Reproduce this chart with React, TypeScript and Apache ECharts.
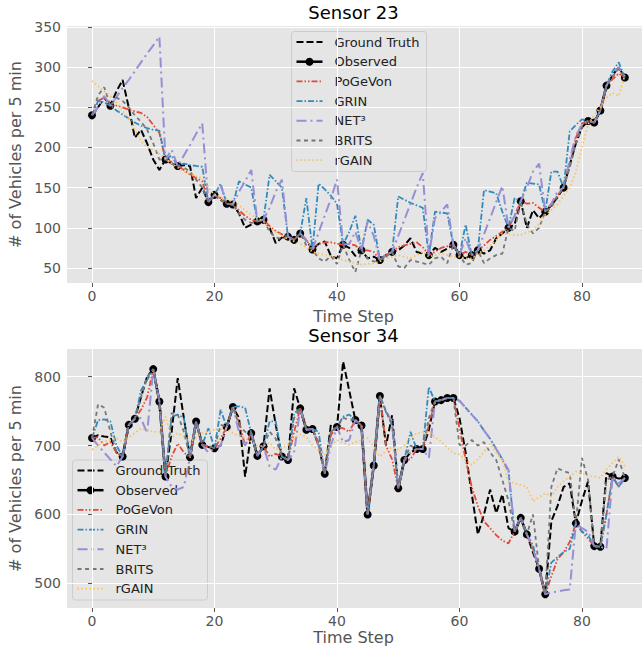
import React, { useEffect, useRef } from "react";
import * as echarts from "echarts";

// ---------- Sensor 23 ----------
const GT_23 = [
  240, 250, 262, 252, 270, 284, 250, 212, 222, 205,
  185, 172, 185, 180, 177, 178, 177, 137, 150, 132,
  141, 135, 130, 129, 118, 100, 104, 108, 110, 100,
  81, 88, 89, 85, 93, 84, 73, 80, 83, 65,
  62, 79, 75, 65, 72, 62, 64, 60, 66, 70,
  72, 78, 87, 70, 68, 66, 75, 70, 74, 79,
  66, 62, 66, 72, 68, 72, 87, 93, 100, 104,
  133, 100, 122, 112, 120, 128, 138, 150, 178, 205,
  225, 233, 231, 246, 277, 290, 300, 287,
];
const OBS_IDX_23 = [0, 3, 12, 14, 19, 20, 22, 23, 27, 28, 32, 33, 34, 36, 41, 44, 47, 49, 55, 59, 60, 62, 63, 68, 70, 74, 77, 81, 82, 83, 84, 87];
const POGEVON_23 = [
  240, 258, 262, 252, 252, 250, 247, 245, 243, 238,
  228, 218, 185, 182, 177, 172, 166, 162, 158, 132,
  141, 137, 130, 129, 122, 115, 110, 108, 110, 102,
  96, 92, 89, 85, 93, 85, 73, 80, 82, 82,
  80, 79, 80, 78, 72, 72, 70, 60, 66, 70,
  76, 78, 80, 82, 76, 66, 70, 75, 77, 79,
  66, 70, 66, 72, 78, 85, 90, 95, 100, 115,
  133, 130, 131, 125, 120, 130, 140, 150, 180, 212,
  230, 233, 231, 246, 277, 285, 292, 287,
];
const GRIN_23 = [
  240, 258, 256, 252, 246, 241, 236, 231, 227, 224,
  222, 221, 185, 190, 177, 180, 178, 177, 176, 132,
  141, 155, 130, 129, 158, 154, 150, 108, 110, 166,
  158, 150, 89, 85, 93, 137, 73, 155, 148, 140,
  130, 79, 95, 115, 72, 110, 104, 60, 66, 70,
  139, 135, 131, 128, 125, 66, 120, 119, 118, 79,
  66, 104, 66, 72, 147, 145, 143, 120, 100, 137,
  133, 156, 155, 154, 120, 170, 170, 150, 220, 228,
  235, 233, 231, 246, 277, 295, 306, 287,
];
const NET3_23 = [
  240, 250, 264, 252, 263, 274, 284, 295, 306, 317,
  327, 338, 185, 197, 177, 190, 203, 217, 230, 132,
  141, 153, 130, 129, 145, 158, 172, 108, 110, 125,
  145, 160, 89, 85, 93, 84, 73, 94, 115, 136,
  160, 79, 80, 95, 72, 108, 90, 60, 66, 70,
  90, 110, 130, 150, 168, 66, 112, 120, 129, 79,
  66, 87, 66, 72, 92, 112, 132, 152, 100, 115,
  133, 150, 170, 180, 120, 130, 145, 150, 185, 215,
  228, 233, 231, 246, 277, 290, 300, 287,
];
const BRITS_23 = [
  240, 265, 275, 252, 262, 258, 250, 240, 232, 222,
  205, 185, 185, 180, 177, 175, 170, 160, 150, 132,
  141, 135, 130, 129, 118, 110, 106, 108, 110, 95,
  88, 86, 89, 85, 93, 78, 73, 62, 58, 65,
  55, 79, 60, 45, 72, 62, 58, 60, 64, 70,
  52, 50, 60, 58, 56, 54, 62, 64, 56, 79,
  66, 54, 56, 72, 56, 62, 66, 68, 100, 96,
  133, 104, 93, 100, 120, 125, 140, 150, 175, 205,
  225, 233, 231, 246, 277, 288, 298, 287,
];
const RGAIN_23 = [
  283, 276, 270, 264, 256, 246, 235, 222, 208, 200,
  197, 192, 186, 180, 175, 170, 167, 164, 162, 150,
  141, 138, 135, 133, 128, 122, 116, 112, 108, 100,
  95, 90, 86, 83, 80, 76, 70, 68, 66, 64,
  62, 60, 58, 56, 54, 55, 56, 58, 62, 64,
  66, 64, 62, 66, 70, 64, 66, 68, 66, 64,
  64, 62, 62, 68, 72, 78, 85, 93, 92, 91,
  91, 94, 97, 105, 116, 122, 129, 140, 150, 170,
  200, 229, 240, 250, 262, 268, 264, 290,
];

// ---------- Sensor 34 ----------
const GT_34 = [
  711, 715, 713, 712, 690, 684, 730, 739, 770, 800,
  811, 764, 655, 720, 798, 740, 683, 735, 701, 698,
  696, 700, 727, 756, 740, 655, 718, 685, 699, 783,
  730, 684, 679, 783, 754, 723, 724, 700, 659, 730,
  727, 822, 780, 737, 729, 600, 671, 772, 700, 744,
  638, 679, 690, 695, 695, 723, 764, 766, 769, 769,
  740, 690, 630, 571, 600, 636, 602, 629, 580, 575,
  595, 571, 545, 521, 484, 590, 612, 640, 645, 587,
  620, 648, 554, 553, 660, 655, 652, 653,
];
const OBS_IDX_34 = [0, 5, 6, 7, 10, 11, 12, 16, 17, 18, 20, 22, 23, 26, 27, 28, 31, 32, 34, 35, 36, 38, 40, 43, 44, 45, 46, 47, 50, 51, 53, 54, 56, 57, 58, 59, 69, 70, 71, 73, 74, 79, 82, 83, 85, 87];
const POGEVON_34 = [
  711, 712, 700, 705, 690, 684, 730, 739, 752, 770,
  811, 764, 655, 684, 703, 690, 683, 735, 701, 698,
  696, 710, 727, 756, 735, 700, 718, 685, 699, 684,
  688, 684, 679, 720, 754, 723, 724, 700, 659, 715,
  727, 725, 720, 737, 729, 600, 671, 772, 700, 680,
  638, 679, 680, 695, 695, 730, 764, 766, 769, 769,
  725, 680, 640, 612, 590, 580, 570, 562, 558, 575,
  595, 571, 550, 521, 484, 510, 535, 545, 560, 587,
  575, 565, 554, 553, 600, 655, 640, 653,
];
const GRIN_34 = [
  711, 737, 738, 735, 700, 684, 730, 739, 780, 795,
  811, 764, 655, 742, 745, 740, 683, 735, 701, 725,
  696, 752, 727, 756, 757, 755, 718, 685, 699, 735,
  735, 684, 679, 747, 754, 723, 724, 720, 659, 720,
  727, 742, 745, 737, 729, 600, 671, 772, 749, 730,
  638, 679, 720, 695, 695, 785, 764, 766, 769, 769,
  765, 755, 745, 735, 722, 710, 695, 680, 662, 575,
  595, 571, 555, 521, 484, 530, 538, 545, 550, 587,
  575, 570, 554, 553, 600, 655, 640, 653,
];
const NET3_34 = [
  711, 700, 690, 680, 670, 684, 730, 739, 740, 718,
  811, 764, 655, 640, 636, 640, 683, 735, 701, 690,
  696, 700, 727, 756, 720, 700, 718, 685, 699, 670,
  665, 684, 679, 690, 754, 723, 724, 700, 659, 700,
  727, 705, 708, 737, 729, 600, 671, 772, 750, 735,
  638, 679, 690, 695, 695, 682, 764, 766, 769, 769,
  765, 755, 745, 735, 722, 710, 695, 680, 665, 575,
  595, 571, 550, 521, 484, 487, 488, 490, 491, 587,
  580, 575, 554, 553, 550, 655, 645, 653,
];
const BRITS_34 = [
  711, 760, 755, 720, 690, 684, 730, 739, 770, 800,
  811, 764, 655, 747, 745, 720, 683, 735, 701, 700,
  696, 730, 727, 756, 730, 720, 718, 685, 699, 720,
  710, 684, 679, 740, 754, 723, 724, 705, 659, 720,
  727, 740, 738, 737, 729, 600, 671, 772, 750, 730,
  638, 679, 700, 695, 695, 740, 764, 766, 769, 769,
  701, 700, 708, 700, 705, 690, 679, 650, 620, 575,
  595, 571, 600, 521, 484, 640, 667, 663, 660, 587,
  682, 650, 554, 553, 650, 655, 680, 653,
];
const RGAIN_34 = [
  694, 700, 706, 708, 711, 705, 712, 718, 725, 722,
  720, 720, 742, 712, 718, 713, 705, 712, 718, 720,
  723, 724, 725, 718, 714, 711, 705, 700, 699, 704,
  694, 697, 701, 710, 716, 712, 700, 694, 687, 700,
  708, 704, 701, 705, 708, 711, 698, 684, 692, 698,
  694, 700, 710, 718, 719, 720, 712, 706, 697, 689,
  687, 680, 672, 680, 691, 703, 690, 679, 648, 645,
  643, 640, 619, 625, 631, 626, 640, 648, 655, 662,
  660, 656, 655, 653, 665, 675, 684, 670,
];

const X_TICKS = [0, 20, 40, 60, 80];
const Y_TICKS_23 = [50, 100, 150, 200, 250, 300, 350];
const Y_TICKS_34 = [500, 600, 700, 800];
const TITLES = ["Sensor 23", "Sensor 34"];
const LEGEND_NAMES = ["Ground Truth", "Observed", "PoGeVon", "GRIN", "NET³", "BRITS", "rGAIN"];

const STYLES = [
  { color: "#000000", width: 2, dash: [7, 3] },
  { color: "#000000", width: 2.5, dash: "solid" },
  { color: "#E24A33", width: 1.8, dash: [6, 2, 1.5, 2, 1.5, 2] },
  { color: "#348ABD", width: 1.8, dash: [6, 2, 1.5, 2] },
  { color: "#988ED5", width: 2, dash: [10, 4, 2, 4] },
  { color: "#777777", width: 1.8, dash: [4, 3.5] },
  { color: "#FBC15E", width: 1.8, dash: [1.5, 2.5] },
];

const FONT = "DejaVu Sans";

const pts = (arr: number[]) => arr.map((v, i) => [i, v]);
const obsPts = (gt: number[], idx: number[]) =>
  gt.map((v, i) => (idx.includes(i) ? [i, v] : [i, null]));

function buildSeries(panel: number, sets: any[]) {
  return sets.map((data, k) => {
    const st = STYLES[k];
    const s: any = {
      type: "line",
      name: LEGEND_NAMES[k] + "_" + panel,
      xAxisIndex: panel,
      yAxisIndex: panel,
      data,
      silent: true,
      connectNulls: false,
      z: 2 + k,
      lineStyle: { color: st.color, width: st.width, type: st.dash, cap: "butt" },
      itemStyle: { color: st.color },
      symbol: "none",
      showSymbol: false,
    };
    if (k === 1) {
      s.symbol = "circle";
      s.symbolSize = 8;
      s.showSymbol = true;
      s.showAllSymbol = true;
    }
    return s;
  });
}

function legendGroup(x: number, y: number) {
  const children: any[] = [
    {
      type: "rect",
      shape: { x: 0, y: 0, width: 135, height: 140, r: 3 },
      style: { fill: "rgba(229,229,229,0.8)", stroke: "#CCCCCC", lineWidth: 1 },
    },
  ];
  LEGEND_NAMES.forEach((name, k) => {
    const st = STYLES[k];
    const cy = 10.5 + k * 19.7;
    children.push({
      type: "line",
      shape: { x1: 5, y1: cy, x2: 31, y2: cy },
      style: {
        stroke: st.color,
        lineWidth: st.width,
        lineDash: st.dash === "solid" ? null : st.dash,
      },
    });
    if (k === 1) {
      children.push({
        type: "circle",
        shape: { cx: 18, cy, r: 4 },
        style: { fill: "#000" },
      });
    }
    children.push({
      type: "text",
      x: 43,
      y: cy,
      style: {
        text: name,
        fill: "#222",
        font: `13px "${FONT}"`,
        verticalAlign: "middle",
        align: "left",
      },
    });
  });
  return { type: "group", x, y, z: 100, children };
}

export default function App() {
  const ref = useRef<HTMLDivElement>(null);
  useEffect(() => {
    if (!ref.current) return;
    const chart = echarts.init(ref.current, undefined, { renderer: "svg" });

    const grids = [
      { left: 67, top: 26, width: 575, height: 257 },
      { left: 67, top: 349, width: 575, height: 259 },
    ];
    const xTitleY = [316, 637];
    const yRanges = [
      { min: 31.3, max: 351.2, ticks: Y_TICKS_23 },
      { min: 464.1, max: 840.2, ticks: Y_TICKS_34 },
    ];

    const xAxes = grids.map((_, i) => ({
      gridIndex: i,
      type: "value",
      min: -4.08,
      max: 89.8,
      axisLine: { show: false },
      axisTick: { show: true, length: 4, lineStyle: { color: "#555" }, customValues: X_TICKS },
      axisLabel: { customValues: X_TICKS, color: "#555", fontSize: 14, margin: 6, fontFamily: FONT },
      splitLine: { show: true, lineStyle: { color: "#FFFFFF", width: 1 } },
    }));
    const yAxes = yRanges.map((r, i) => ({
      gridIndex: i,
      type: "value",
      min: r.min,
      max: r.max,
      axisLine: { show: false },
      axisTick: { show: true, length: 4, lineStyle: { color: "#555" }, customValues: r.ticks },
      axisLabel: { customValues: r.ticks, color: "#555", fontSize: 14, margin: 6, fontFamily: FONT },
      splitLine: { show: true, lineStyle: { color: "#FFFFFF", width: 1 } },
    }));

    const series = [
      ...buildSeries(0, [
        pts(GT_23), obsPts(GT_23, OBS_IDX_23), pts(POGEVON_23), pts(GRIN_23),
        pts(NET3_23), pts(BRITS_23), pts(RGAIN_23),
      ]),
      ...buildSeries(1, [
        pts(GT_34), obsPts(GT_34, OBS_IDX_34), pts(POGEVON_34), pts(GRIN_34),
        pts(NET3_34), pts(BRITS_34), pts(RGAIN_34),
      ]),
    ];

    const texts: any[] = [];
    grids.forEach((g, i) => {
      const cx = g.left + g.width / 2 - 1;
      texts.push({
        type: "text", x: cx, y: g.top - 14, z: 100,
        style: { text: TITLES[i], fill: "#000", font: `18px "${FONT}"`, align: "center", verticalAlign: "middle" },
      });
      texts.push({
        type: "text", x: cx, y: xTitleY[i], z: 100,
        style: { text: "Time Step", fill: "#555", font: `16px "${FONT}"`, align: "center", verticalAlign: "middle" },
      });
      texts.push({
        type: "text", x: 15, y: g.top + g.height / 2, rotation: Math.PI / 2, z: 100,
        style: { text: "# of Vehicles per 5 min", fill: "#555", font: `16px "${FONT}"`, align: "center", verticalAlign: "middle" },
      });
    });

    chart.setOption({
      animation: false,
      backgroundColor: "#FFFFFF",
      grid: grids.map((g) => ({ ...g, show: true, backgroundColor: "#E5E5E5", borderWidth: 0 })),
      xAxis: xAxes,
      yAxis: yAxes,
      series,
      graphic: [...texts, legendGroup(291.5, 31.5), legendGroup(72.5, 460)],
    });
    return () => chart.dispose();
  }, []);
  return (
    <div
      ref={ref}
      style={{ position: "fixed", left: 0, top: 0, width: 642, height: 649 }}
    />
  );
}
